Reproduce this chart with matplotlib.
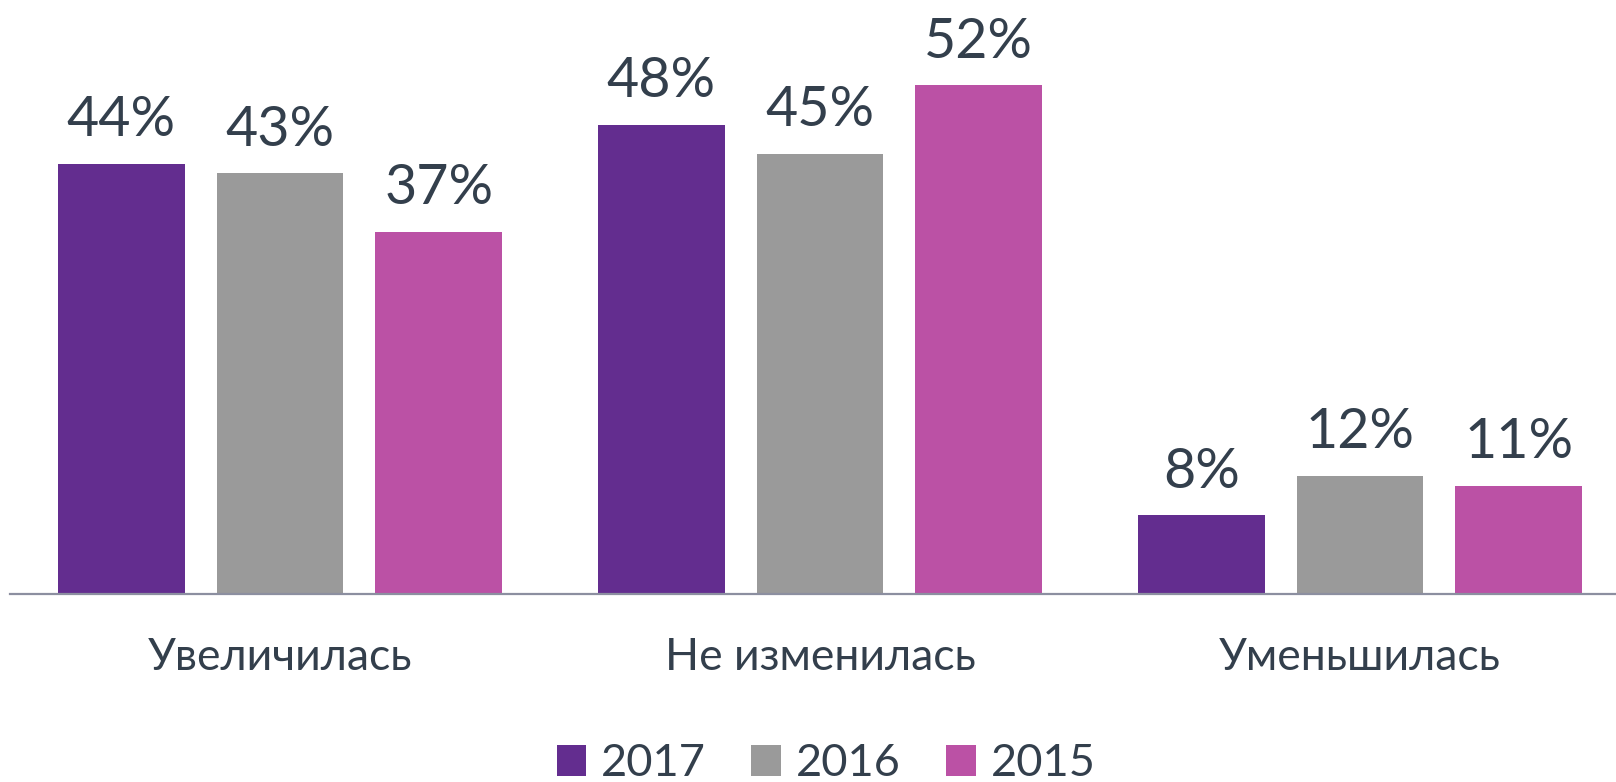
import matplotlib
matplotlib.use("Agg")
import matplotlib.pyplot as plt
from matplotlib.patches import Patch
import numpy as np

categories = ["Увеличилась", "Не изменилась", "Уменьшилась"]
series_names = ["2017", "2016", "2015"]
values_2017 = [44, 48, 8]
values_2016 = [43, 45, 12]
values_2015 = [37, 52, 11]
colors = ["#632D8F", "#9A9A9A", "#BB51A5"]
text_color = "#333F4C"

plt.rcParams['font.family'] = ['Lato', 'DejaVu Sans']

W, H, DPI = 1616, 782, 100
fig = plt.figure(figsize=(W / DPI, H / DPI), dpi=DPI)
ax_left = 10 / W
axis_y = 593.5
ax_bottom = (H - axis_y) / H
ax = fig.add_axes([ax_left, ax_bottom, 1 - ax_left, 1 - ax_bottom])

x = np.arange(len(categories))
bar_w = 0.235
step = 0.294
all_vals = [values_2017, values_2016, values_2015]
for i, (name, vals, c) in enumerate(zip(series_names, all_vals, colors)):
    pos = x + (i - 1) * step
    ax.bar(pos, vals, width=bar_w, color=c, label=name, zorder=2)
    for p, v in zip(pos, vals):
        ax.annotate(f"{v}%", (p, v), xytext=(0, 20), textcoords="offset points",
                    ha="center", va="baseline", fontsize=40, color=text_color)

ax.set_xlim(-0.5, (W - 10) / 540 - 0.5)
ax.set_ylim(0, axis_y / 9.77)
for s in ["top", "right", "left"]:
    ax.spines[s].set_visible(False)
ax.spines["bottom"].set_color("#8C8FA0")
ax.spines["bottom"].set_linewidth(1.6)
ax.set_yticks([])
ax.set_xticks(x)
ax.set_xticklabels(categories, fontsize=32, color=text_color)
ax.tick_params(axis="x", length=0, pad=31)

handles = [Patch(facecolor=c, edgecolor="none") for c in colors]
fig.legend(handles, series_names, loc="center", bbox_to_anchor=(826 / W, (H - 764) / H),
           ncol=3, frameon=False, fontsize=32.5, handlelength=0.66, handleheight=0.66,
           handletextpad=0.33, columnspacing=1.0, borderpad=0, labelcolor=text_color)

fig.savefig("out.png", dpi=DPI)
